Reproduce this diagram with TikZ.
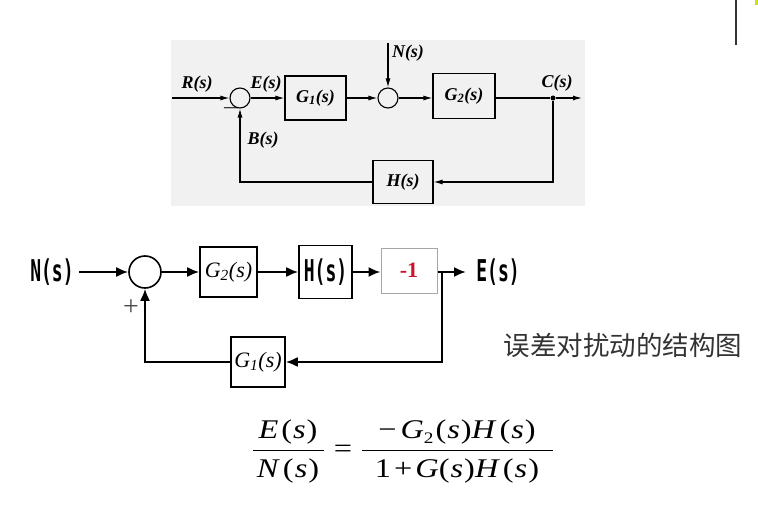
\documentclass[tikz,border=0pt]{standalone}
\usepackage{fontspec}
\setmainfont{Liberation Serif}
\newfontfamily\monof[FakeStretch=0.6]{DejaVu Sans Mono}
\newfontfamily\cjk{Noto Sans CJK SC}
\newfontfamily\formf[FakeStretch=1.2]{Liberation Serif}
\usetikzlibrary{arrows.meta}
\definecolor{bggray}{RGB}{241,241,241}
\definecolor{minusred}{RGB}{205,20,45}
\newcommand{\fsub}[1]{\raisebox{-5pt}{\fontsize{16}{16}\selectfont #1}}
\tikzset{
  topfont/.style={font=\fontsize{18}{18}\selectfont\bfseries\itshape},
  topbox/.style={draw, line width=1.1pt, inner sep=0pt, topfont},
  topsum/.style={draw, circle, line width=1.1pt, minimum size=20pt, inner sep=0pt},
  toplab/.style={topfont, inner sep=0pt},
  topline/.style={line width=1.1pt},
  toparr/.style={topline, -{Latex[length=9pt,width=5pt]}},
  botbox/.style={draw, line width=1.6pt, inner sep=0pt},
  botline/.style={line width=2pt},
  botarr/.style={botline, -{Latex[length=12pt,width=10pt]}},
  monolab/.style={font=\fontsize{30}{30}\selectfont\monof\bfseries, inner sep=0pt},
  formtxt/.style={font=\fontsize{27}{27}\selectfont\formf, inner sep=0pt},
}
\begin{document}
\begin{tikzpicture}[x=1pt,y=-1pt]
\useasboundingbox (0,0) rectangle (758,527);
% ---------- top diagram ----------
\fill[bggray] (171,40) rectangle (585,206);
\node[topsum] (s1) at (240,98) {};
\node[topbox, minimum width=61pt, minimum height=44pt] (G1) at (315.5,98) {G\textsubscript{1}(s)};
\node[topsum] (s2) at (388,98) {};
\node[topbox, minimum width=62pt, minimum height=45pt] (G2) at (464,96) {G\textsubscript{2}(s)};
\node[circle, fill, inner sep=0pt, minimum size=5pt] (dot) at (553,98) {};
\node[topbox, minimum width=60pt, minimum height=43pt] (H) at (403,182) {H(s)};
\coordinate (rin) at (172,98);
\coordinate (nin) at (388,43);
\coordinate (cout) at (582,98);
\node[toplab] (Rl) at (197,84) {R(s)};
\node[toplab] (El) at (266,84) {E(s)};
\node[toplab] (Nl) at (408,53) {N(s)};
\node[toplab] (Cl) at (557,83) {C(s)};
\node[toplab] (Bl) at (263,140) {B(s)};
\node[font=\fontsize{14}{14}\selectfont\bfseries, inner sep=0pt] (minus) at (231,110) {—};
\draw[toparr] (rin) -- (s1.west);
\draw[toparr] (s1.east) -- (G1.west);
\draw[toparr] (G1.east) -- (s2.west);
\draw[toparr] (s2.east) -- (s2.east -| G2.west);
\draw[toparr] (nin) -- (s2.north);
\draw[topline] (s2.east -| G2.east) -- (dot);
\draw[toparr] (dot) -- (cout);
\draw[toparr] (dot) |- (H.east);
\draw[toparr] (H.west) -| (s1.south);
% ---------- bottom diagram ----------
\node[monolab] (Nb) at (52,272) {N(s)};
\node[draw, circle, line width=1.6pt, minimum size=32pt, inner sep=0pt] (c) at (145,272) {};
\node[botbox, minimum width=57pt, minimum height=50pt, font=\fontsize{22}{22}\selectfont\itshape] (G2b) at (228.5,272) {G\textsubscript{2}(s)};
\node[botbox, minimum width=53pt, minimum height=53pt, monolab] (Hb) at (325.5,272) {H(s)};
\node[draw=gray!70, line width=1pt, minimum width=56pt, minimum height=45pt, inner sep=0pt, text=minusred, font=\fontsize{22}{22}\selectfont\bfseries] (m1) at (409,270.5) {-1};
\node[botbox, minimum width=54pt, minimum height=50pt, font=\fontsize{22}{22}\selectfont\itshape] (G1b) at (258,362) {G\textsubscript{1}(s)};
\node[monolab] (Eb) at (498,272) {E(s)};
\node[font=\fontsize{28}{28}\selectfont, text=gray!60!black, inner sep=0pt] (plus) at (131,308) {+};
\coordinate (br) at (442,272);
\coordinate (eend) at (466,272);
\draw[botarr] ([xshift=5pt]Nb.east) -- (c.west);
\draw[botarr] (c.east) -- (G2b.west);
\draw[botarr] (G2b.east) -- (Hb.west);
\draw[botarr] (Hb.east) -- (Hb.east -| m1.west);
\draw[botline] (Hb.east -| m1.east) -- (br);
\draw[botarr] (br) -- (eend);
\draw[botarr] (br) |- (G1b.east);
\draw[botarr] (G1b.west) -| (c.south);
\node[font=\fontsize{26.5}{26.5}\selectfont\cjk, text=black!80, inner sep=0pt] (cap) at (623,345) {误差对扰动的结构图};
% ---------- formula ----------
\node[formtxt] (n1) at (288,432) {\textit{E}\kern3pt(\kern1pt\textit{s}\kern1pt)};
\node[formtxt] (d1) at (288,471) {\textit{N}\kern3pt(\kern1pt\textit{s}\kern1pt)};
\node[formtxt] (eq) at (343,451) {=};
\node[formtxt] (n2) at (457,432) {−\kern4pt\textit{G}\fsub{2}\kern2pt(\kern1pt\textit{s}\kern1pt)\textit{H}\kern3pt(\kern1pt\textit{s}\kern1pt)};
\node[formtxt] (d2) at (457,471) {1\kern3pt+\kern3pt\textit{G}(\kern1pt\textit{s}\kern1pt)\textit{H}\kern3pt(\kern1pt\textit{s}\kern1pt)};
\draw[line width=1pt] (253,450) -- (324,450);
\draw[line width=1pt] (362,450) -- (553,450);
% ---------- corner marks ----------
\draw[line width=1.5pt, black!80] (736,0) -- (736,45);
\fill[yellow!80!green] (755,0) rectangle (758,5);
\end{tikzpicture}
\end{document}
